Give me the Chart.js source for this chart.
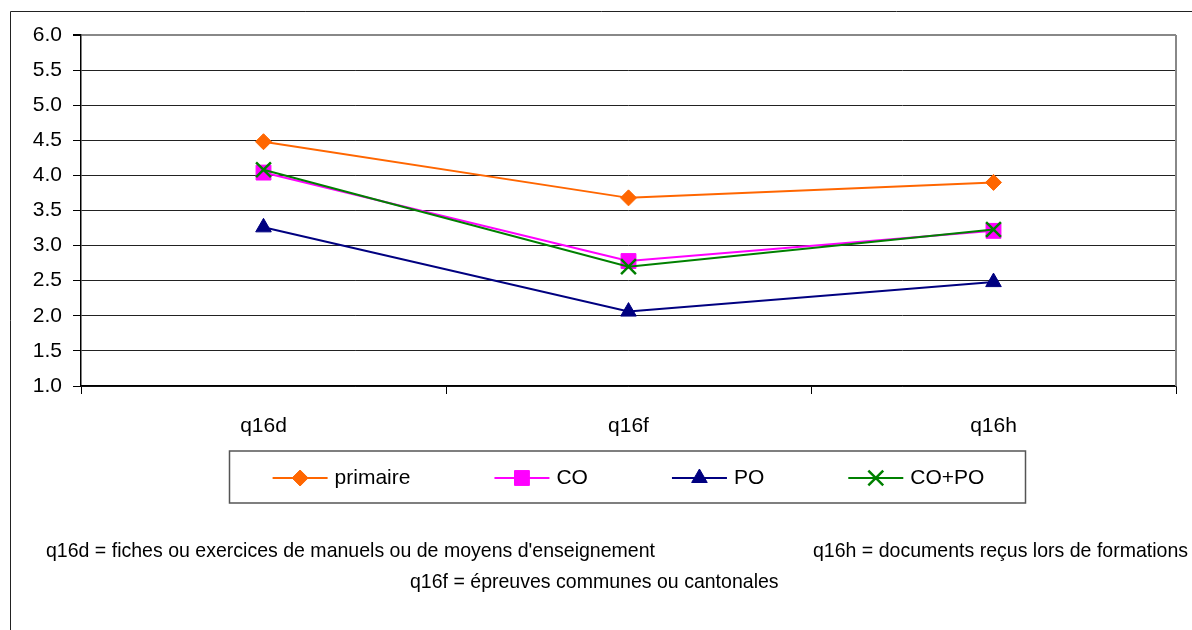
<!DOCTYPE html>
<html>
<head>
<meta charset="utf-8">
<script src="https://cdn.jsdelivr.net/npm/chart.js@4.4.0/dist/chart.umd.min.js"></script>
<style>
    html, body { margin: 0; padding: 0; background: #fff; }
</style>
</head>
<body>
<canvas id="chart" width="1192" height="630"></canvas>
<script>
// chart data
const categories = ['q16d', 'q16f', 'q16h'];
const primaire = [4.48, 3.68, 3.90];
const co = [4.04, 2.78, 3.21];
const po = [3.26, 2.06, 2.48];
const coPo = [4.08, 2.70, 3.23];
const yMin = 1.0, yMax = 6.0, yStep = 0.5;

// notes below the legend
const notes = [
    { text: 'q16d = fiches ou exercices de manuels ou de moyens d\'enseignement', x: 46, y: 551 },
    { text: 'q16h = documents reçus lors de formations', x: 813, y: 551 },
    { text: 'q16f = épreuves communes ou cantonales', x: 410, y: 582 }
];

const FONT = '"Liberation Sans", Arial, sans-serif';
Chart.defaults.font.family = FONT;
Chart.defaults.font.size = 21;
Chart.defaults.color = '#000';

// outer frame, plot border on top/right, boxed legend and notes
const decorPlugin = {
    id: 'decor',
    beforeDraw(chart) {
        const ctx = chart.ctx;
        ctx.save();
        ctx.fillStyle = '#fff';
        ctx.fillRect(0, 0, chart.width, chart.height);
        ctx.strokeStyle = '#222';
        ctx.lineWidth = 1;
        ctx.beginPath();
        ctx.moveTo(10.5, chart.height);
        ctx.lineTo(10.5, 11.5);
        ctx.lineTo(chart.width, 11.5);
        ctx.stroke();
        ctx.restore();
    },
    afterDatasetsDraw(chart) {
        const ctx = chart.ctx;
        const a = chart.chartArea;
        ctx.save();
        ctx.strokeStyle = '#888';
        ctx.lineWidth = 2;
        ctx.beginPath();
        ctx.moveTo(a.right, a.top);
        ctx.lineTo(a.right, a.bottom);
        ctx.stroke();
        ctx.restore();
    },
    afterDraw(chart) {
        const ctx = chart.ctx;
        const a = chart.chartArea;
        ctx.save();

        // legend box
        const cx = (a.left + a.right) / 2;
        ctx.strokeStyle = '#555';
        ctx.lineWidth = 1.5;
        ctx.strokeRect(cx - 399, 451, 796, 52);

        ctx.font = '21px ' + FONT;
        ctx.textBaseline = 'middle';
        ctx.textAlign = 'left';
        const lineW = 55, gap = 7, itemGap = 84, rowY = 478;
        const sets = chart.data.datasets;
        const widths = sets.map(ds => lineW + gap + ctx.measureText(ds.label).width);
        const total = widths.reduce((s, w) => s + w, 0) + itemGap * (sets.length - 1);
        let x = cx - total / 2;
        sets.forEach((ds, i) => {
            ctx.strokeStyle = ds.borderColor;
            ctx.lineWidth = 2;
            ctx.beginPath();
            ctx.moveTo(x, rowY);
            ctx.lineTo(x + lineW, rowY);
            ctx.stroke();
            ctx.fillStyle = ds.pointBackgroundColor;
            ctx.strokeStyle = ds.pointBorderColor;
            ctx.lineWidth = ds.pointBorderWidth;
            Chart.helpers.drawPoint(ctx, {
                pointStyle: ds.pointStyle,
                radius: ds.pointRadius,
                rotation: 0,
                borderWidth: ds.pointBorderWidth
            }, x + lineW / 2, rowY);
            ctx.fillStyle = '#000';
            ctx.fillText(ds.label, x + lineW + gap, rowY);
            x += widths[i] + itemGap;
        });

        // notes, narrow like the original
        ctx.font = '21px ' + FONT;
        notes.forEach(n => {
            ctx.save();
            ctx.translate(n.x, n.y);
            ctx.scale(0.93, 1);
            ctx.fillText(n.text, 0, 0);
            ctx.restore();
        });
        ctx.restore();
    }
};

function series(label, data, color, style, radius, order) {
    return {
        label: label,
        data: data,
        borderColor: color,
        backgroundColor: color,
        borderWidth: 2,
        pointStyle: style,
        pointRadius: radius,
        pointHoverRadius: radius,
        pointBackgroundColor: color,
        pointBorderColor: color,
        pointBorderWidth: style === 'crossRot' ? 2.5 : 1,
        tension: 0,
        fill: false,
        order: order
    };
}

new Chart(document.getElementById('chart'), {
    type: 'line',
    data: {
        labels: categories,
        datasets: [
            series('primaire', primaire, '#FF6600', 'rectRot', 8, 1),
            series('CO', co, '#FF00FF', 'rect', 10.5, 2),
            series('PO', po, '#000080', 'triangle', 9, 1),
            series('CO+PO', coPo, '#008000', 'crossRot', 10.5, 0)
        ]
    },
    options: {
        responsive: false,
        animation: false,
        clip: false,
        layout: { padding: { top: 35, right: 16, bottom: 180, left: 0 } },
        plugins: {
            legend: { display: false },
            tooltip: { enabled: false }
        },
        scales: {
            x: {
                offset: true,
                afterFit: (scale) => { scale.height = 64; },
                grid: {
                    offset: true,
                    drawOnChartArea: false,
                    drawTicks: true,
                    tickLength: 8,
                    color: '#000'
                },
                border: { color: '#000', width: 1.5 },
                ticks: { padding: 20, color: '#000', font: { size: 21 } }
            },
            y: {
                min: yMin,
                max: yMax,
                afterFit: (scale) => { scale.width = 81; },
                grid: {
                    tickLength: 8,
                    tickColor: '#000',
                    color: (c) => (c.tick && c.tick.value === yMax ? '#888' : '#222'),
                    lineWidth: (c) => (c.tick && c.tick.value === yMax ? 2 : 1)
                },
                border: { color: '#000', width: 1.5 },
                ticks: {
                    stepSize: yStep,
                    padding: 11,
                    color: '#000',
                    font: { size: 21 },
                    callback: (v) => Number(v).toFixed(1)
                }
            }
        }
    },
    plugins: [decorPlugin]
});
</script>
</body>
</html>
